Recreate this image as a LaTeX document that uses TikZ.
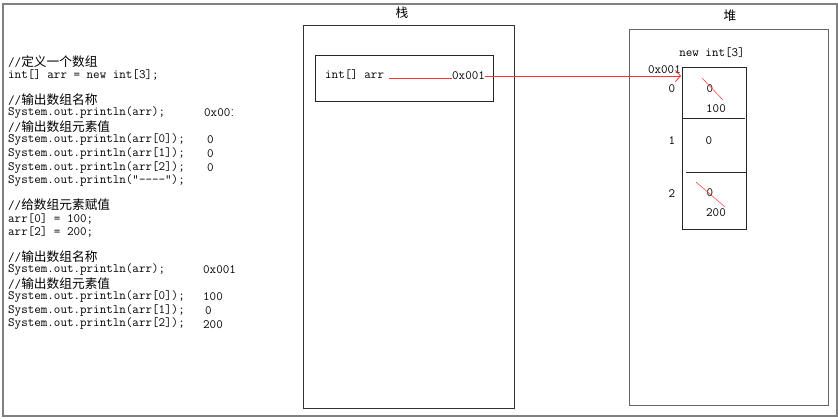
\documentclass[tikz,border=0pt]{standalone}
\usepackage{fontspec}
\newfontfamily\codefont{Latin Modern Mono}
\newfontfamily\cjk{Noto Sans CJK SC}
\usetikzlibrary{arrows.meta}
\newcommand\zh[1]{{\cjk\fontsize{12.7}{14}\selectfont #1}}
\tikzset{
  code/.style={anchor=west, inner sep=0pt, font=\codefont\fontsize{12.7}{13}\selectfont},
  val/.style={inner sep=0pt, font=\codefont\fontsize{12.7}{13}\selectfont},
  zhlabel/.style={inner sep=0pt, font=\cjk\fontsize{12.7}{14}\selectfont},
  frame/.style={draw=black!50, line width=2pt},
  stackpanel/.style={draw=black!80, line width=0.9pt, anchor=north west, inner sep=0pt},
  heappanel/.style={draw=black!60, line width=0.9pt, anchor=north west, inner sep=0pt},
  box/.style={draw=black!85, line width=0.8pt, anchor=north west, inner sep=0pt},
  redline/.style={draw=red!80, line width=0.8pt},
  strike/.style={draw=red!70, line width=0.6pt},
  divider/.style={draw=black!85, line width=0.8pt}
}
\begin{document}
\begin{tikzpicture}[x=1pt,y=-1pt]
\useasboundingbox (0,0) rectangle (838,419);
\node[frame, anchor=north west, inner sep=0pt, minimum width=834pt, minimum height=412pt] (frame) at (2,3) {};

% left code
\node[code] (c1) at (8,62) {//\zh{定义一个数组}};
\node[code] (c2) at (8,75) {int[] arr = new int[3];};
\node[code] (c3) at (8,100) {//\zh{输出数组名称}};
\node[code] (c4) at (8,113) {System.out.println(arr);};
\begin{scope}
\clip (200,104) rectangle (232,122);
\node[code] (v4) at (204,113) {0x001};
\end{scope}
\node[code] (c5) at (8,126.5) {//\zh{输出数组元素值}};
\node[code] (c6) at (8,140) {System.out.println(arr[0]);};
\node[code] (v6) at (207,140) {0};
\node[code] (c7) at (8,154) {System.out.println(arr[1]);};
\node[code] (v7) at (207,154) {0};
\node[code] (c8) at (8,167.5) {System.out.println(arr[2]);};
\node[code] (v8) at (207,167.5) {0};
\node[code] (c9) at (8,181) {System.out.println("----");};
\node[code] (c10) at (8,205) {//\zh{给数组元素赋值}};
\node[code] (c11) at (8,219) {arr[0] = 100;};
\node[code] (c12) at (8,232) {arr[2] = 200;};
\node[code] (c13) at (8,256.5) {//\zh{输出数组名称}};
\node[code] (c14) at (8,270) {System.out.println(arr);};
\node[code] (v14) at (203,270) {0x001};
\node[code] (c15) at (8,283.5) {//\zh{输出数组元素值}};
\node[code] (c16) at (8,297) {System.out.println(arr[0]);};
\node[code] (v16) at (203,297) {100};
\node[code] (c17) at (8,311) {System.out.println(arr[1]);};
\node[code] (v17) at (205,311) {0};
\node[code] (c18) at (8,324) {System.out.println(arr[2]);};
\node[code] (v18) at (203,325) {200};

% stack
\node[zhlabel] (stacklbl) at (402,13) {栈};
\node[stackpanel, minimum width=211pt, minimum height=383pt] (stack) at (303,25) {};
\node[box, minimum width=178pt, minimum height=46pt] (frameinner) at (315,55) {};
\node[code] (arrlbl) at (325,75) {int[] arr};
\node[code] (addr) at (452,76) {0x001};
\draw[redline] (arrlbl.east |- 0,78) ++(5pt,0) -- (addr.west |- 0,78);

% heap
\node[zhlabel] (heaplbl) at (730,16) {堆};
\node[heappanel, minimum width=199pt, minimum height=376pt] (heap) at (629,29) {};
\node[val] (newlbl) at (712,53) {new int[3]};
\node[box, minimum width=64pt, minimum height=162pt] (arr) at (682,67) {};
\coordinate (d1a) at (682,118); \coordinate (d1b) at (745,118);
\coordinate (d2a) at (686,172); \coordinate (d2b) at (746,172);
\draw[divider] (d1a) -- (d1b);
\draw[divider] (d2a) -- (d2b);
\node[val, anchor=east] (haddr) at (681,70) {0x001};
\node[val] (i0) at (672,89) {0};
\node[val] (i1) at (672,141) {1};
\node[val] (i2) at (672,194) {2};
\node[val] (e0old) at (710,89) {0};
\node[val] (e0) at (716,109) {100};
\node[val] (e1) at (709,141) {0};
\node[val] (e2old) at (710,193) {0};
\node[val] (e2) at (716,213) {200};
\coordinate (s1a) at (702,78); \coordinate (s1b) at (723,100);
\coordinate (s2a) at (696,182); \coordinate (s2b) at (725,207);
\draw[strike] (s1a) -- (s1b);
\draw[strike] (s2a) -- (s2b);

% arrow
\coordinate (tip) at (681,76);
\draw[redline, -{Straight Barb[length=5pt,width=11pt,line width=0.8pt]}] (addr.east |- 0,76) -- (tip);
\end{tikzpicture}
\end{document}
